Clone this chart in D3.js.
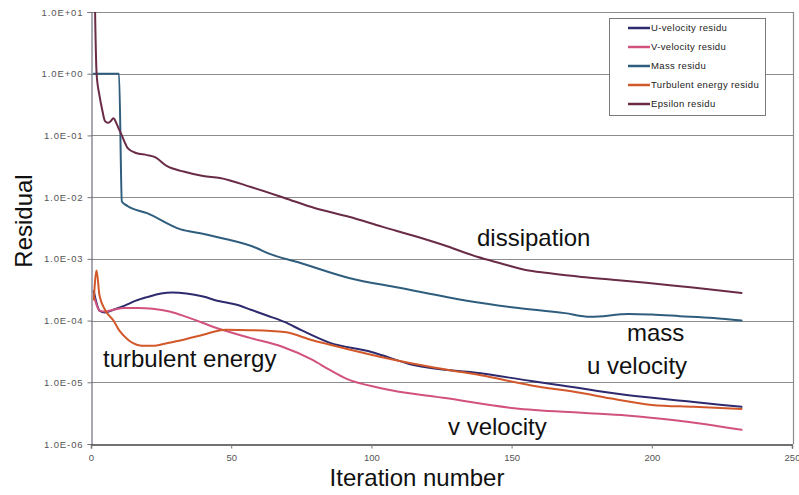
<!DOCTYPE html>
<html>
<head>
<meta charset="utf-8">
<script src="https://cdn.jsdelivr.net/npm/d3@7/dist/d3.min.js"></script>
<style>
  body { margin: 0; background: #fff; }
  svg { display: block; font-family: "Liberation Sans", Arial, sans-serif; }
</style>
</head>
<body>
<svg id="chart" width="799" height="495"></svg>
<script>
// Axis ticks
const xTicks = [0, 50, 100, 150, 200, 250];
const yTicks = [1e1, 1e0, 1e-1, 1e-2, 1e-3, 1e-4, 1e-5, 1e-6];
const yTickLabels = ["1.0E+01", "1.0E+00", "1.0E-01", "1.0E-02", "1.0E-03", "1.0E-04", "1.0E-05", "1.0E-06"];

// Legend entries
const seriesNames = ["U-velocity residu", "V-velocity residu", "Mass residu", "Turbulent energy residu", "Epsilon residu"];
const seriesColors = ["#2d2a6e", "#d2527f", "#2f5d7d", "#d2582a", "#6a2b47"];

// U-velocity residual
const uIter  = [1, 2, 3, 5, 8, 12, 16, 20, 25, 29, 34, 40, 45, 52, 57, 63, 69, 75, 85, 100, 115, 139, 157, 168, 191, 215, 232];
const uResid = [3.0e-4, 1.9e-4, 1.45e-4, 1.35e-4, 1.5e-4, 1.75e-4, 2.1e-4, 2.4e-4, 2.75e-4, 2.85e-4, 2.75e-4, 2.45e-4, 2.1e-4, 1.8e-4, 1.5e-4, 1.2e-4, 9.5e-5, 7.0e-5, 4.4e-5, 3.1e-5, 1.9e-5, 1.4e-5, 1.05e-5, 8.9e-6, 6.2e-6, 4.8e-6, 4.0e-6];

// V-velocity residual
const vIter  = [1, 2, 3, 5, 8, 12, 17, 22, 28, 34, 45, 57, 68, 79, 85, 91, 103, 127, 151, 175, 191, 209, 232];
const vResid = [2.5e-4, 1.8e-4, 1.45e-4, 1.4e-4, 1.5e-4, 1.6e-4, 1.6e-4, 1.55e-4, 1.4e-4, 1.15e-4, 7.5e-5, 5.2e-5, 3.8e-5, 2.3e-5, 1.6e-5, 1.15e-5, 8.1e-6, 5.5e-6, 3.8e-6, 3.2e-6, 2.9e-6, 2.4e-6, 1.7e-6];

// Mass residual
const massIter  = [1, 10, 11, 13, 20, 32, 39, 46, 59, 63, 75, 92, 110, 134, 150, 169, 178, 192, 200, 210, 222, 232];
const massResid = [1.0, 1.0, 8.5e-3, 7.2e-3, 5.5e-3, 3.0e-3, 2.6e-3, 2.2e-3, 1.5e-3, 1.24e-3, 8.5e-4, 4.9e-4, 3.4e-4, 2.1e-4, 1.65e-4, 1.32e-4, 1.15e-4, 1.28e-4, 1.25e-4, 1.18e-4, 1.1e-4, 1.0e-4];

// Turbulent energy residual
const keIter  = [1, 2, 3, 5, 8, 10, 13, 15, 18, 22, 27, 33, 40, 48, 57, 69, 79, 91, 103, 115, 127, 139, 157, 175, 185, 200, 215, 232];
const keResid = [2.2e-4, 6.5e-4, 2.6e-4, 1.5e-4, 1.0e-4, 7.0e-5, 5.0e-5, 4.3e-5, 3.9e-5, 3.9e-5, 4.3e-5, 4.9e-5, 5.9e-5, 7.1e-5, 7.0e-5, 6.5e-5, 4.8e-5, 3.5e-5, 2.6e-5, 2.0e-5, 1.6e-5, 1.3e-5, 8.9e-6, 6.7e-6, 5.5e-6, 4.3e-6, 4.0e-6, 3.7e-6];

// Epsilon (dissipation) residual
const epsIter  = [1, 2, 3, 4, 5, 6, 7, 8, 9, 10, 11, 12, 13, 16, 20, 23, 27, 33, 40, 46, 57, 69, 80, 92, 104, 116, 127, 138, 146, 155, 163, 175, 186, 198, 210, 221, 232];
const epsResid = [200, 1.0, 0.45, 0.26, 0.17, 0.16, 0.17, 0.19, 0.16, 0.125, 0.1, 0.078, 0.063, 0.052, 0.048, 0.044, 0.032, 0.026, 0.022, 0.0205, 0.0146, 0.0097, 0.0066, 0.0048, 0.0033, 0.0023, 0.0016, 0.00107, 0.00085, 0.00066, 0.00059, 0.00051, 0.00046, 0.00041, 0.00036, 0.00032, 0.00028];

// In-plot annotations
const notes = [
  { text: "dissipation",      x: 477, y: 246 },
  { text: "mass",             x: 627, y: 341 },
  { text: "u velocity",       x: 587, y: 374 },
  { text: "turbulent energy", x: 103, y: 367 },
  { text: "v velocity",       x: 448, y: 435 }
];

const series = [
  { iter: uIter,    resid: uResid },
  { iter: vIter,    resid: vResid },
  { iter: massIter, resid: massResid },
  { iter: keIter,   resid: keResid },
  { iter: epsIter,  resid: epsResid }
];

const plot = { left: 91, right: 792, top: 12, bottom: 444 };
const svg = d3.select("#chart");

const x = d3.scaleLinear().domain([0, 250]).range([plot.left, plot.right]);
const y = d3.scaleLog().domain([1e-6, 1e1]).range([plot.bottom, plot.top]);

svg.append("defs").append("clipPath").attr("id", "plotClip")
  .append("rect")
  .attr("x", plot.left).attr("y", plot.top)
  .attr("width", plot.right - plot.left).attr("height", plot.bottom - plot.top);

// Horizontal gridlines at each decade
svg.append("g").selectAll("line").data(yTicks.slice(0, -1)).join("line")
  .attr("x1", plot.left).attr("x2", plot.right + 1)
  .attr("y1", d => Math.round(y(d)) + 0.5).attr("y2", d => Math.round(y(d)) + 0.5)
  .attr("stroke", "#8c8c8c").attr("stroke-width", 1.2);

// Right border of the plot area
svg.append("line")
  .attr("x1", plot.right + 1.5).attr("x2", plot.right + 1.5)
  .attr("y1", plot.top).attr("y2", plot.bottom)
  .attr("stroke", "#8c8c8c").attr("stroke-width", 1.2);

// Y axis
const yAxis = d3.axisLeft(y).tickValues(yTicks).tickSize(4).tickPadding(4)
  .tickFormat((d, i) => yTickLabels[i]);
const gy = svg.append("g").attr("transform", `translate(${plot.left + 0.5},0)`).call(yAxis);
gy.select(".domain").attr("stroke", "#6f6f80").attr("stroke-width", 1.2);
gy.selectAll(".tick line").attr("stroke", "#777");
gy.selectAll(".tick text")
  .attr("font-family", "'Liberation Sans', Arial, sans-serif")
  .attr("font-size", 9.5).attr("letter-spacing", 0.9).attr("fill", "#555");

// X axis
const xAxis = d3.axisBottom(x).tickValues(xTicks).tickSize(4).tickPadding(6)
  .tickFormat(d3.format("d"));
const gx = svg.append("g").attr("transform", `translate(0,${plot.bottom + 0.5})`).call(xAxis);
gx.select(".domain").attr("stroke", "#444").attr("stroke-width", 1.4);
gx.selectAll(".tick line").attr("stroke", "#777");
gx.selectAll(".tick text")
  .attr("font-family", "'Liberation Sans', Arial, sans-serif")
  .attr("font-size", 9.5).attr("fill", "#555");

// Residual curves
const line = d3.line()
  .x(d => x(d[0]))
  .y(d => y(d[1]))
  .curve(d3.curveMonotoneX);

const lines = svg.append("g").attr("clip-path", "url(#plotClip)");
series.forEach((s, i) => {
  const pts = s.iter.map((it, k) => [it, s.resid[k]]);
  lines.append("path")
    .datum(pts)
    .attr("d", line)
    .attr("fill", "none")
    .attr("stroke", seriesColors[i])
    .attr("stroke-width", 2)
    .attr("stroke-linejoin", "round")
    .attr("stroke-linecap", "round");
});

// Legend
const legend = svg.append("g");
legend.append("rect")
  .attr("x", 609.5).attr("y", 18.5).attr("width", 156).attr("height", 97)
  .attr("fill", "#fff").attr("stroke", "#7a7a7a").attr("stroke-width", 1);
seriesNames.forEach((name, i) => {
  const ly = 28 + i * 19;
  legend.append("line")
    .attr("x1", 628).attr("x2", 650).attr("y1", ly).attr("y2", ly)
    .attr("stroke", seriesColors[i]).attr("stroke-width", 2.5);
  legend.append("text")
    .attr("x", 651).attr("y", ly).attr("dy", "0.35em")
    .attr("font-size", 9.5).attr("letter-spacing", 0.35).attr("fill", "#222")
    .text(name);
});

// Axis titles
svg.append("text")
  .attr("transform", "translate(32,221) rotate(-90)")
  .attr("text-anchor", "middle")
  .attr("font-size", 24).attr("fill", "#111")
  .text("Residual");
svg.append("text")
  .attr("x", 417).attr("y", 486)
  .attr("text-anchor", "middle")
  .attr("font-size", 24).attr("fill", "#111")
  .text("Iteration number");

// Curve annotations
svg.append("g").selectAll("text").data(notes).join("text")
  .attr("x", d => d.x).attr("y", d => d.y)
  .attr("font-size", 24).attr("fill", "#111")
  .text(d => d.text);
</script>
</body>
</html>
